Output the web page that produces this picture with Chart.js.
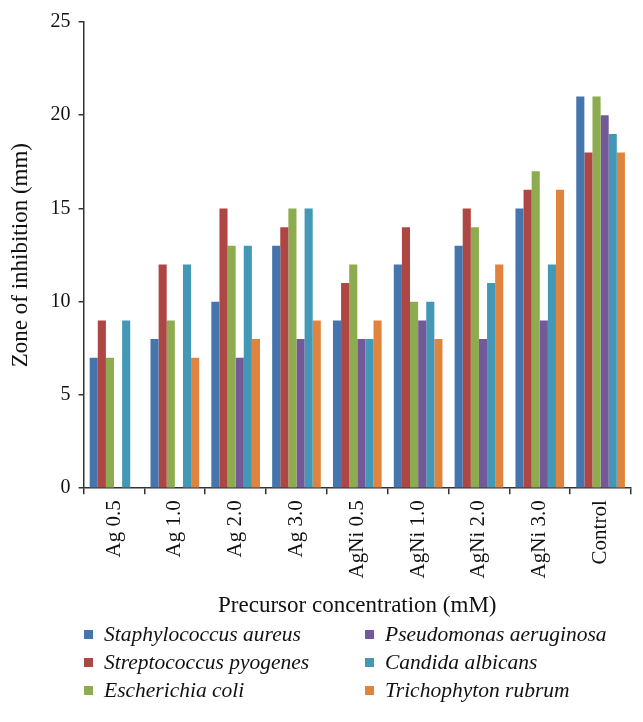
<!DOCTYPE html>
<html lang="en">
<head>
<meta charset="UTF-8" />
<title>Zone of inhibition</title>
<script src="https://cdn.jsdelivr.net/npm/chart.js@4.4.0/dist/chart.umd.min.js"></script>
<style>
  html, body { margin: 0; padding: 0; background: #fff; }
  #wrap { position: relative; width: 643px; height: 722px; }
  #legend {
    position: absolute; left: 84px; top: 620px;
    display: grid; grid-template-columns: 281px 260px; grid-auto-flow: column;
    grid-template-rows: repeat(3, 28px);
    font-family: "Liberation Serif", serif; font-style: italic; font-size: 21.5px; color: #111;
  }
  #legend div { display: flex; align-items: center; white-space: nowrap; }
  #legend span.box { display: inline-block; width: 9px; height: 9px; margin-right: 11px; }
</style>
</head>
<body>
<div id="wrap">
  <canvas id="myChart" width="643" height="722"></canvas>
  <div id="legend"></div>
</div>
<script>
const categories = ["Ag 0.5", "Ag 1.0", "Ag 2.0", "Ag 3.0", "AgNi 0.5", "AgNi 1.0", "AgNi 2.0", "AgNi 3.0", "Control"];

const staphylococcus = [7, 8, 10, 13, 9, 12, 13, 15, 21];
const streptococcus = [9, 12, 15, 14, 11, 14, 15, 16, 18];
const escherichia = [7, 9, 13, 15, 12, 10, 14, 17, 21];
const pseudomonas = [0, 0, 7, 8, 8, 9, 8, 9, 20];
const candida = [9, 12, 13, 15, 8, 10, 11, 12, 19];
const trichophyton = [0, 7, 8, 9, 9, 8, 12, 16, 18];

const seriesNames = [
  "Staphylococcus aureus", "Streptococcus pyogenes", "Escherichia coli",
  "Pseudomonas aeruginosa", "Candida albicans", "Trichophyton rubrum"
];
const seriesValues = [staphylococcus, streptococcus, escherichia, pseudomonas, candida, trichophyton];
const seriesColors = ["#4674AD", "#AE4744", "#8CAC4F", "#73589A", "#4399B5", "#E0843D"];

const yTicks = [0, 5, 10, 15, 20, 25];

const serif = "'Liberation Serif', serif";

const datasets = seriesNames.map((name, i) => ({
  label: name,
  data: seriesValues[i],
  backgroundColor: seriesColors[i],
  borderWidth: 0,
  categoryPercentage: 0.8,
  barPercentage: 1.0,
}));

const ctx = document.getElementById("myChart").getContext("2d");
new Chart(ctx, {
  type: "bar",
  data: { labels: categories, datasets: datasets },
  options: {
    responsive: false,
    animation: false,
    layout: { padding: { left: 7, right: 12, top: 22, bottom: 102 } },
    plugins: {
      legend: { display: false },
      tooltip: { enabled: false },
    },
    scales: {
      x: {
        border: { display: true, color: "#333", width: 1.5 },
        grid: { display: true, drawOnChartArea: false, drawTicks: true, tickLength: 6, color: "#333", lineWidth: 1.5 },
        ticks: {
          minRotation: 90, maxRotation: 90, autoSkip: false, padding: 6,
          color: "#111", font: { family: serif, size: 21 },
        },
        title: {
          display: true, text: "Precursor concentration (mM)", color: "#111",
          font: { family: serif, size: 23 }, padding: { top: 8, bottom: 0 },
        },
      },
      y: {
        min: 0, max: 25,
        afterBuildTicks: (scale) => { scale.ticks = yTicks.map((v) => ({ value: v })); },
        border: { display: true, color: "#333", width: 1.5 },
        grid: { display: true, drawOnChartArea: false, drawTicks: true, tickLength: 5, color: "#333", lineWidth: 1.5 },
        ticks: { padding: 8, color: "#111", font: { family: serif, size: 20 } },
        title: {
          display: true, text: "Zone of inhibition (mm)", color: "#111",
          font: { family: serif, size: 23 }, padding: { top: 0, bottom: 8 },
        },
      },
    },
  },
});

// legend in two columns, filled top to bottom
const legend = document.getElementById("legend");
seriesNames.forEach((name, i) => {
  const item = document.createElement("div");
  item.innerHTML = `<span class="box" style="background:${seriesColors[i]}"></span>${name}`;
  legend.appendChild(item);
});
</script>
</body>
</html>
